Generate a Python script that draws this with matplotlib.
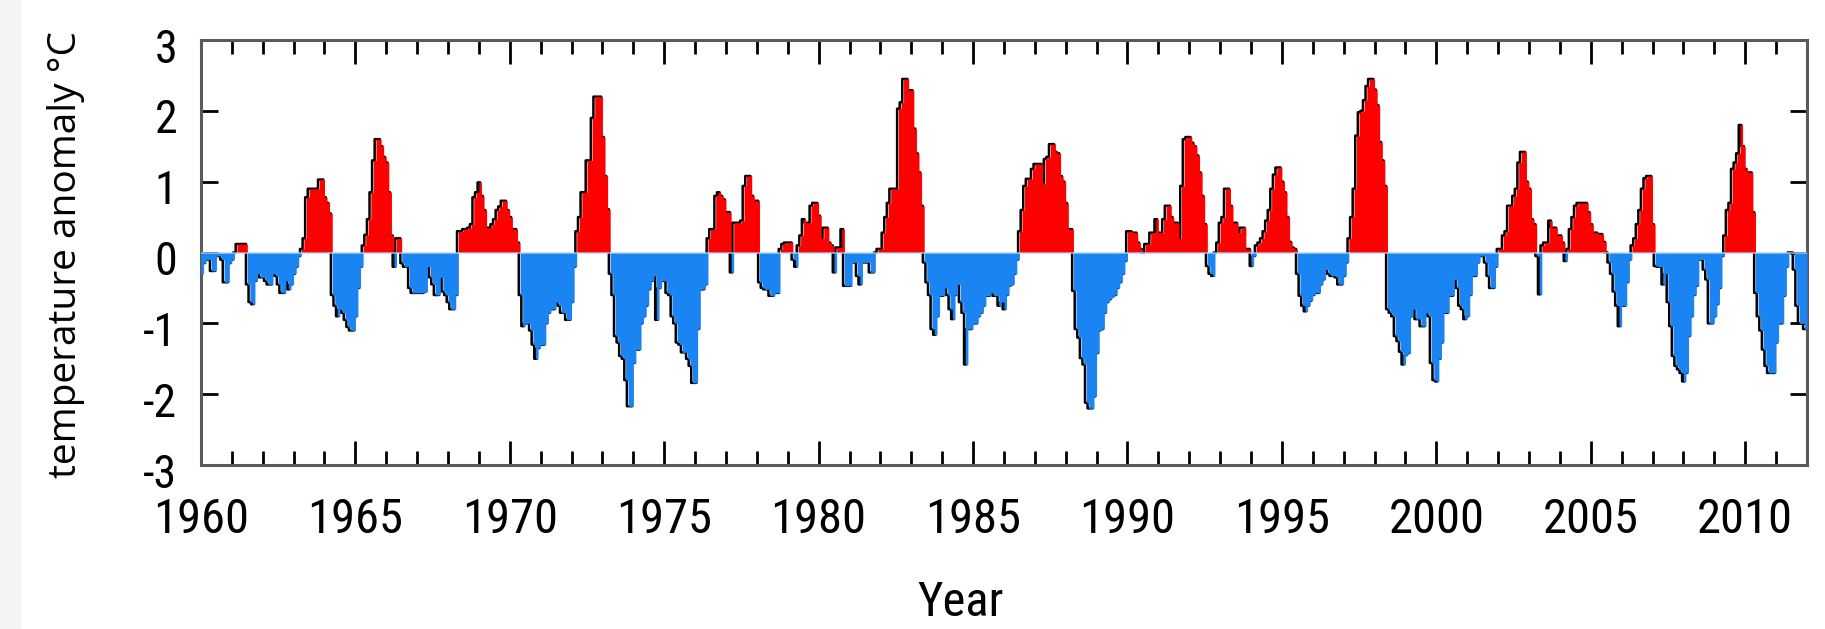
import numpy as np
import matplotlib.pyplot as plt
from matplotlib import font_manager
from matplotlib.ticker import MultipleLocator
from matplotlib.patches import Rectangle
from matplotlib.transforms import ScaledTranslation

# monthly temperature anomaly (deg C), one row per year
anom_1960s = [
    -0.3, -0.15, -0.1, -0.1, -0.26, -0.26, -0.05, -0.05, -0.1, -0.42, -0.42, -0.15,
    -0.1, 0.0, 0.12, 0.12, 0.12, 0.12, -0.45, -0.7, -0.73, -0.4, -0.3, -0.35,
    -0.35, -0.4, -0.45, -0.45, -0.3, -0.33, -0.45, -0.57, -0.57, -0.4, -0.52, -0.45,
    -0.3, -0.2, -0.05, 0.05, 0.2, 0.78, 0.9, 0.9, 0.9, 0.9, 1.03, 1.03,
    0.78, 0.7, 0.55, -0.6, -0.75, -0.9, -0.8, -0.85, -0.95, -1.05, -1.1, -1.1,
    -0.9, -0.5, -0.2, 0.1, 0.25, 0.47, 0.85, 1.3, 1.6, 1.6, 1.5, 1.35,
    1.27, 0.85, 0.24, -0.2, 0.2, 0.2, -0.15, -0.2, -0.2, -0.5, -0.57, -0.57,
    -0.57, -0.57, -0.57, -0.55, -0.2, -0.35, -0.45, -0.6, -0.6, -0.35, -0.55, -0.6,
    -0.7, -0.8, -0.8, -0.6, 0.3, 0.3, 0.33, 0.33, 0.35, 0.4, 0.78, 0.85,
    0.99, 0.8, 0.6, 0.35, 0.35, 0.4, 0.47, 0.6, 0.65, 0.73, 0.73, 0.6,
]
anom_1970s = [
    0.5, 0.33, 0.33, 0.14, -0.6, -1.04, -1.0, -1.0, -1.1, -1.3, -1.5, -1.35,
    -1.3, -1.3, -1.0, -0.85, -0.8, -0.8, -0.7, -0.75, -0.85, -0.85, -0.95, -0.95,
    -0.7, -0.2, 0.3, 0.5, 0.85, 0.85, 1.3, 1.3, 1.9, 2.2, 2.2, 2.2,
    1.63, 1.08, 0.61, -0.3, -0.6, -1.18, -1.27, -1.46, -1.5, -1.8, -2.17, -2.17,
    -1.56, -1.37, -1.37, -1.0, -0.9, -0.75, -0.52, -0.4, -0.33, -0.95, -0.5, -0.4,
    -0.4, -0.57, -0.6, -0.9, -1.0, -1.27, -1.3, -1.41, -1.41, -1.5, -1.6, -1.84,
    -1.84, -1.08, -0.52, -0.52, -0.45, 0.2, 0.33, 0.33, 0.8, 0.85, 0.8, 0.75,
    0.57, 0.57, -0.28, 0.42, 0.42, 0.42, 0.45, 0.94, 1.08, 1.08, 0.8, 0.73,
    0.73, -0.42, -0.5, -0.52, -0.52, -0.61, -0.61, -0.57, -0.57, 0.05, 0.12, 0.14,
    0.14, 0.14, -0.1, -0.2, 0.1, 0.24, 0.47, 0.42, 0.42, 0.66, 0.7, 0.7,
]
anom_1980s = [
    0.52, 0.2, 0.35, 0.35, 0.14, 0.1, -0.28, 0.07, 0.07, 0.33, -0.47, -0.47,
    -0.47, -0.14, -0.14, -0.33, -0.45, -0.14, -0.14, -0.14, -0.28, -0.28, 0.0, 0.05,
    0.05, 0.28, 0.5, 0.7, 0.9, 0.9, 0.9, 2.03, 2.12, 2.45, 2.45, 2.29,
    2.29, 1.75, 1.4, 1.13, 0.66, -0.14, -0.42, -0.6, -1.08, -1.16, -0.9, -0.61,
    -0.61, -0.5, -0.6, -0.8, -0.94, -0.6, -0.45, -0.7, -0.85, -1.58, -1.08, -1.08,
    -1.0, -1.0, -0.9, -0.85, -0.75, -0.61, -0.61, -0.57, -0.61, -0.61, -0.75, -0.7,
    -0.8, -0.6, -0.47, -0.45, -0.3, -0.1, 0.3, 0.6, 0.94, 1.04, 1.04, 1.18,
    1.25, 1.25, 1.25, 0.97, 1.32, 1.35, 1.53, 1.53, 1.42, 1.4, 1.08, 1.0,
    0.7, 0.33, 0.33, -0.54, -1.08, -1.2, -1.49, -1.58, -2.12, -2.2, -2.2, -2.03,
    -1.42, -1.1, -1.08, -0.85, -0.7, -0.66, -0.62, -0.6, -0.5, -0.42, -0.3, -0.12,
]
anom_1990s = [
    0.3, 0.3, 0.28, 0.28, 0.14, 0.05, 0.0, 0.12, 0.12, 0.28, 0.28, 0.47,
    0.28, 0.28, 0.47, 0.66, 0.66, 0.5, 0.42, 0.42, 0.2, 0.94, 1.6, 1.63,
    1.63, 1.55, 1.5, 1.37, 1.13, 0.8, 0.4, -0.19, -0.3, -0.33, 0.0, 0.14,
    0.42, 0.5, 0.9, 0.9, 0.66, 0.42, 0.42, 0.28, 0.35, 0.35, 0.05, 0.05,
    -0.19, -0.05, 0.1, 0.14, 0.2, 0.3, 0.45, 0.6, 0.9, 1.1, 1.2, 1.2,
    1.0, 0.85, 0.5, 0.15, 0.07, 0.05, -0.3, -0.61, -0.75, -0.83, -0.75, -0.68,
    -0.6, -0.57, -0.57, -0.45, -0.38, -0.24, -0.3, -0.33, -0.33, -0.35, -0.45, -0.45,
    -0.33, -0.14, 0.2, 0.5, 0.9, 1.65, 1.98, 2.0, 2.15, 2.35, 2.45, 2.45,
    2.3, 2.08, 1.56, 1.3, 0.94, -0.8, -0.85, -0.9, -1.18, -1.25, -1.4, -1.58,
    -1.45, -1.42, -0.9, -0.8, -0.94, -0.94, -1.04, -1.04, -0.85, -0.9, -1.56, -1.8,
]
anom_2000s = [
    -1.82, -1.5, -1.27, -0.85, -0.85, -0.61, -0.61, -0.38, -0.5, -0.75, -0.8, -0.94,
    -0.9, -0.6, -0.33, -0.33, -0.14, -0.05, -0.05, -0.14, -0.33, -0.5, -0.5, -0.2,
    0.05, 0.05, 0.24, 0.3, 0.66, 0.66, 0.8, 0.9, 1.27, 1.42, 1.42, 1.0,
    0.9, 0.47, 0.4, -0.05, -0.59, 0.1, 0.14, 0.14, 0.45, 0.35, 0.35, 0.24,
    0.24, 0.14, -0.12, 0.05, 0.33, 0.5, 0.66, 0.7, 0.7, 0.7, 0.7, 0.57,
    0.4, 0.28, 0.28, 0.26, 0.26, 0.15, 0.0, -0.14, -0.3, -0.55, -0.75, -1.04,
    -0.75, -0.75, -0.42, -0.1, 0.1, 0.2, 0.4, 0.6, 0.9, 1.05, 1.08, 1.08,
    0.4, -0.19, -0.2, -0.2, -0.45, -0.3, -0.7, -1.04, -1.46, -1.6, -1.65, -1.7,
    -1.82, -1.7, -1.18, -0.9, -0.6, -0.47, -0.1, -0.1, -0.24, -0.38, -1.0, -1.0,
    -0.9, -0.73, -0.5, -0.05, 0.24, 0.6, 0.7, 1.18, 1.27, 1.4, 1.8, 1.5,
]
anom_2010s = [
    1.18, 1.13, 1.13, 0.57, -0.57, -0.9, -1.1, -1.37, -1.6, -1.7, -1.7, -1.7,
    -1.27, -1.0, -1.0, -0.61, -0.2, 0.0, 0.0, -0.24, -0.75, -1.0, -1.0, -1.08,
]

start_year = 1960
end_year = 2012
y_ticks = [-3, -2, -1, 0, 1, 2, 3]
x_ticks = [1960, 1965, 1970, 1975, 1980, 1985, 1990, 1995, 2000, 2005, 2010]

values = np.array(anom_1960s + anom_1970s + anom_1980s + anom_1990s + anom_2000s + anom_2010s)
months = start_year + np.arange(len(values)) / 12.0

# close the last step at the right edge
x = np.append(months, end_year)
v = np.append(values, values[-1])


def narrow_font():
    # try a condensed face first, the labels in the picture are narrow
    names = {f.name for f in font_manager.fontManager.ttflist}
    for name in ['Roboto Condensed', 'Liberation Sans Narrow', 'Open Sans Condensed']:
        if name in names:
            return {'family': name}
    path = font_manager.findfont(font_manager.FontProperties(family='DejaVu Sans', stretch='condensed'))
    if 'Condensed' in path:
        return {'family': 'DejaVu Sans', 'stretch': 'condensed'}
    return {'family': 'Liberation Sans'}


plt.rcParams['axes.unicode_minus'] = False
narrow = narrow_font()

fig = plt.figure(figsize=(18.25, 6.29), dpi=100)
fig.patches.append(Rectangle((0, 0), 20 / 1825, 1, transform=fig.transFigure,
                             color='#f4f4f4', zorder=0))
ax = fig.add_axes([0.1101, 0.2607, 0.880, 0.6757])

# black outline sits slightly left and under the fill
ax.step(x - 0.5 / 12, v, where='post', color='black', lw=1.8, zorder=2)
ax.fill_between(x, 0, np.where(v > 0, v, 0), step='post', color='#ff0000', lw=0, zorder=3)
ax.fill_between(x, 0, np.where(v < 0, v, 0), step='post', color='#1a84f2', lw=0, zorder=3)
ax.axhline(0, color='#a9d4ff', lw=1.2, alpha=0.8, zorder=4)

ax.set_xlim(start_year, end_year)
ax.set_ylim(-3, 3)
ax.set_xticks(x_ticks)
ax.xaxis.set_minor_locator(MultipleLocator(1))
ax.set_yticks(y_ticks)

ax.tick_params(axis='both', which='both', direction='in', top=True, right=True,
               color='black', width=2)
ax.tick_params(axis='x', which='major', length=17, pad=23)
ax.tick_params(axis='x', which='minor', length=10)
ax.tick_params(axis='y', which='major', length=12, pad=17)

for lab in ax.get_xticklabels():
    lab.set_fontproperties(font_manager.FontProperties(size=35, **narrow))
nudge = ScaledTranslation(0, -5 / 100, fig.dpi_scale_trans)
for lab in ax.get_yticklabels():
    lab.set_fontproperties(font_manager.FontProperties(size=33, **narrow))
    lab.set_transform(lab.get_transform() + nudge)

for sp in ax.spines.values():
    sp.set_color('#5a5a5a')
    sp.set_linewidth(2.2)

fig.text(66 / 1825, 1 - 254 / 629, 'temperature anomaly \u00b0C', rotation=90,
         ha='center', va='center', fontsize=28, family=['Open Sans', 'DejaVu Sans'])
fig.text(961 / 1825, 1 - 603 / 629, 'Year', ha='center', va='center',
         fontproperties=font_manager.FontProperties(size=35, **narrow))

fig.savefig('out.png', dpi=100)
